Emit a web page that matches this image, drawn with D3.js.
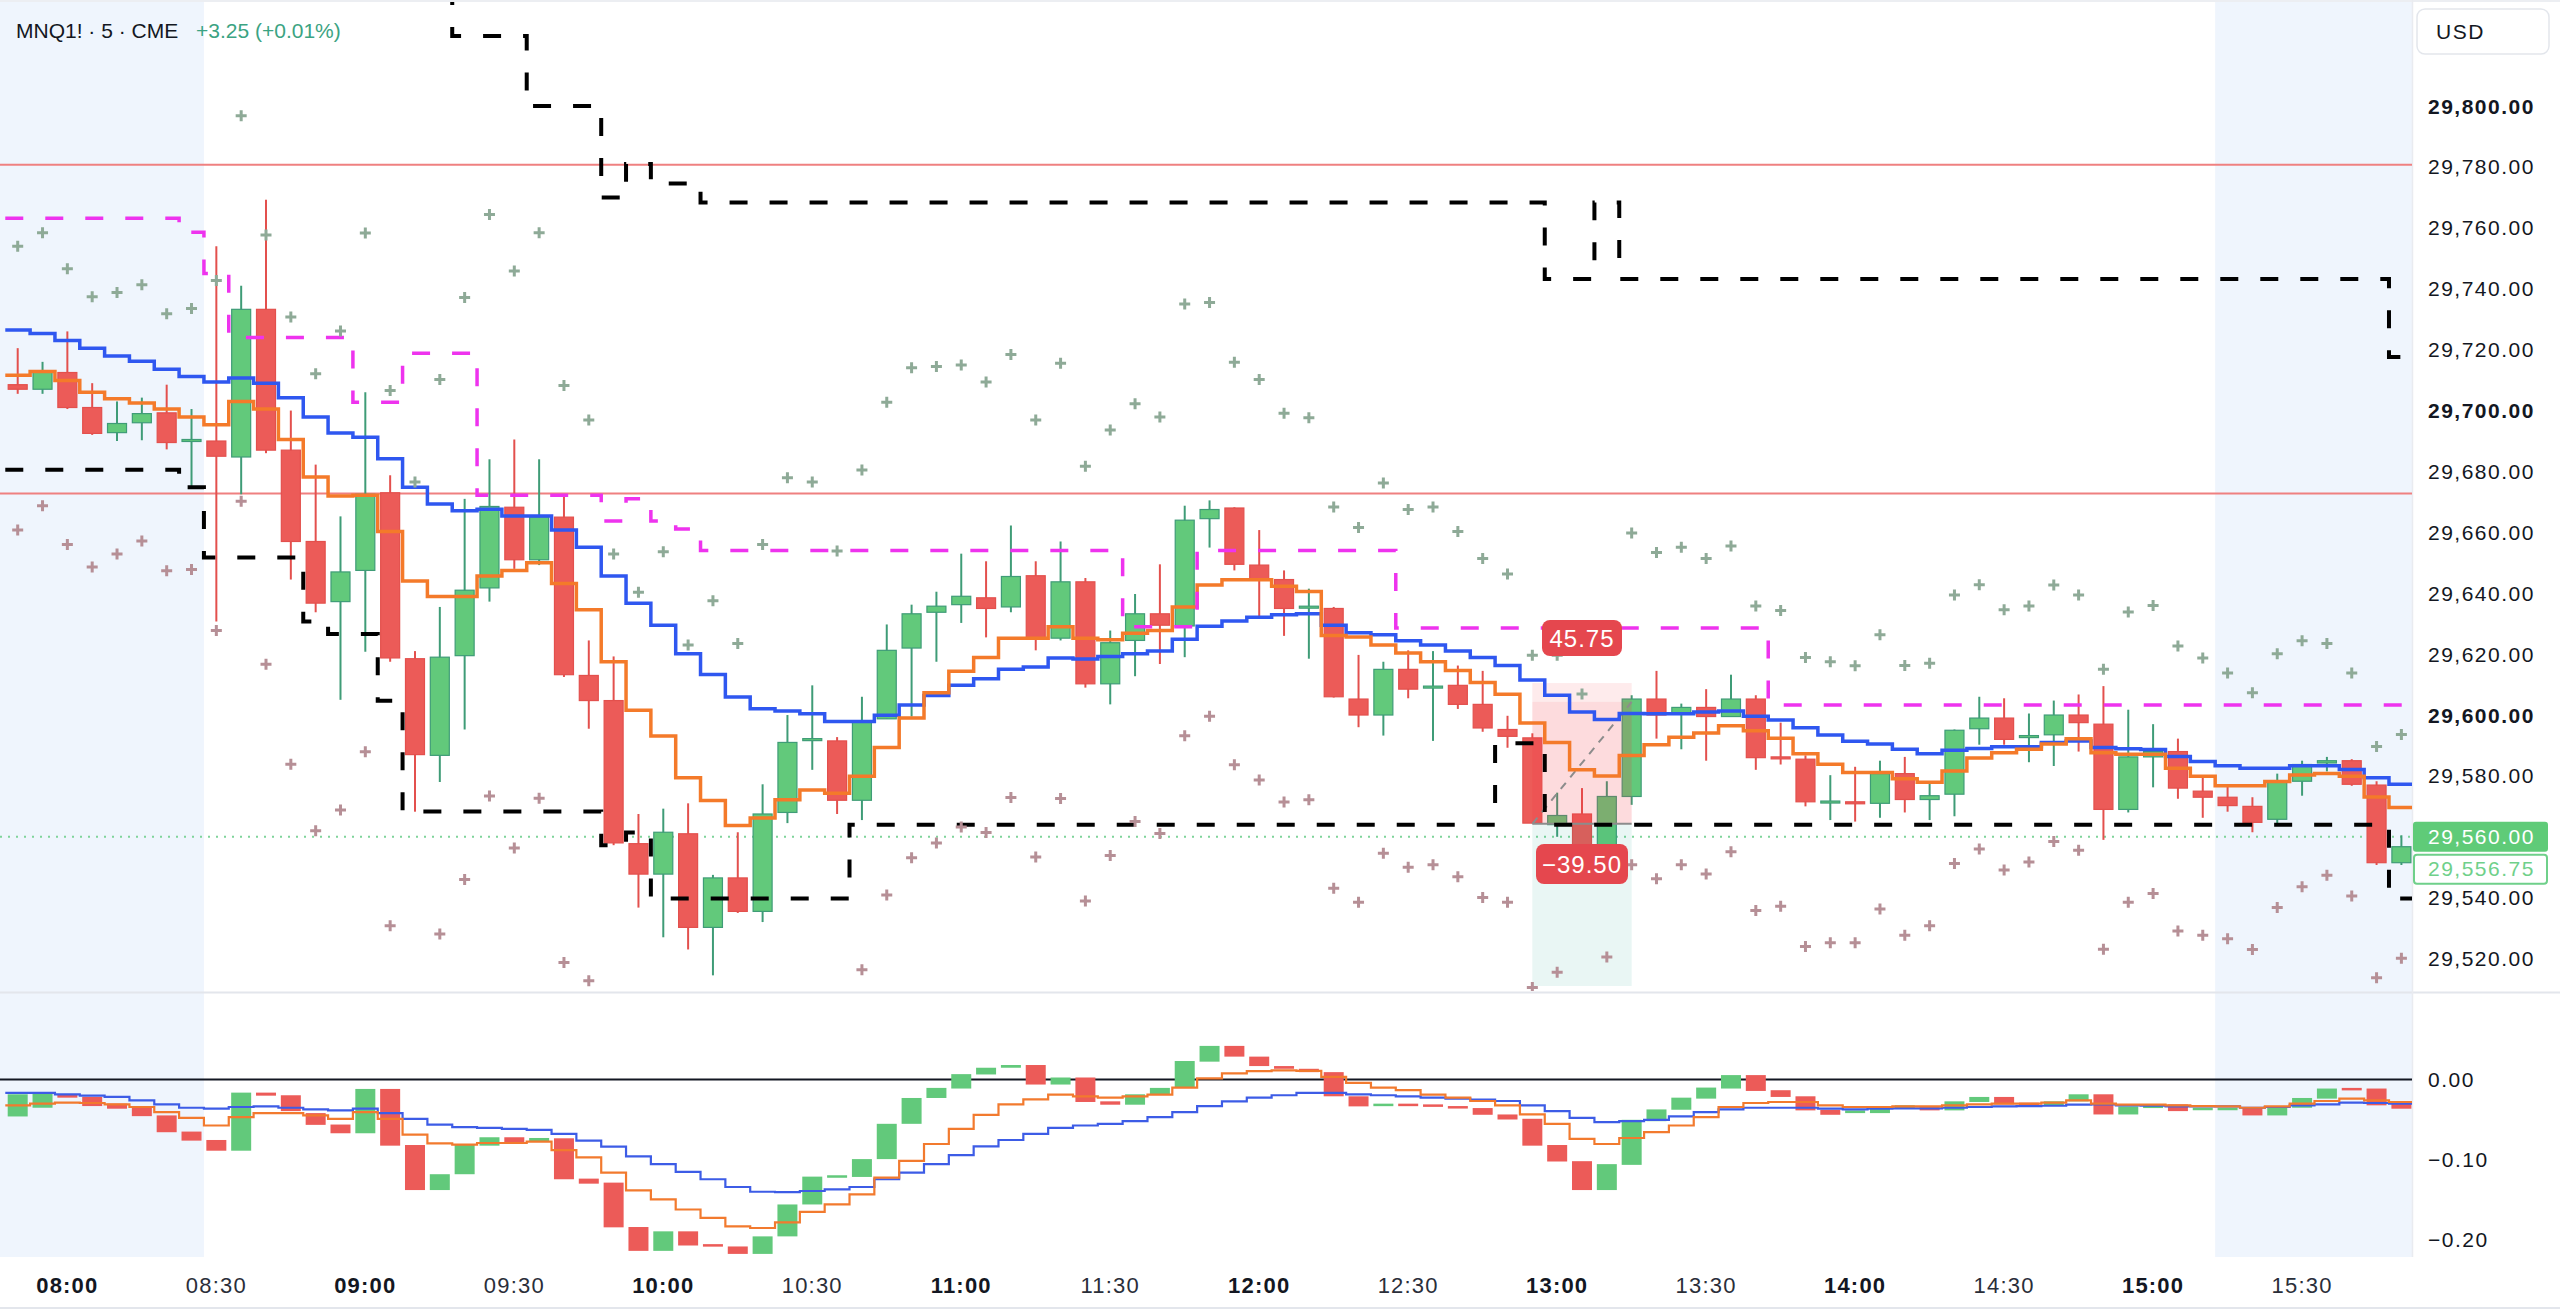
<!DOCTYPE html>
<html>
<head>
<meta charset="utf-8">
<script src="https://cdn.jsdelivr.net/npm/d3@7"></script>
<style>
html, body { margin: 0; padding: 0; background: #fff; }
svg { display: block; font-family: "Liberation Sans", Arial, sans-serif; }
</style>
</head>
<body>
<svg id="chart" width="2560" height="1310"></svg>
<script>
// ---- data (MNQ1!, 5 min bars) ----
var startTime = "07:50";
var barMinutes = 5;
var sessionOpen = "08:30";
var sessionClose = "15:15";
var timeTicks = ["08:00","08:30","09:00","09:30","10:00","10:30","11:00","11:30",
  "12:00","12:30","13:00","13:30","14:00","14:30","15:00","15:30"];
var priceTicks = [29520,29540,29560,29580,29600,29620,29640,29660,29680,29700,29720,29740,29760,29780,29800];
var oscTicks = [0, -0.1, -0.2];
var redLevels = [29780.7, 29672.8];
var lastPrice = 29560;
var lastClose = 29556.75;

var opens = [29708.5,29707,29712.5,29701,29692.75,29696,29699.25,29690.25,29690,29684.75,
29733.25,29687,29657,29637.25,29647.5,29673,29618.5,29586.75,29619.5,29641.75,
29668.25,29651,29665,29613,29604.75,29557.75,29547.75,29561,29530.25,29546.5,
29535.5,29568,29592,29591.5,29572,29598.75,29622,29633.75,29636.25,29638.5,
29635.5,29645.75,29625.25,29643.75,29610.25,29624.5,29633.25,29629.25,29664.5,29668,
29649.25,29644.5,29635.25,29635,29605.25,29600,29615,29609.25,29609.75,29603.5,
29595.25,29592.5,29564,29567.5,29553,29573.25,29605.25,29600.5,29602.5,29599.5,
29605.25,29586.25,29585.5,29571.5,29571.5,29571,29580.75,29572.25,29574,29595.5,
29599,29592.75,29593.5,29600,29597,29569,29586.25,29588,29575,29573,
29570,29565.75,29578.25,29584.25,29585,29577,29551.5];
var highs = [29720.5,29716,29726,29709,29703,29704.25,29708.5,29700.5,29754,29741,
29769.25,29700,29682.25,29665.25,29706,29678.75,29621,29635.5,29671,29684,
29690.5,29684,29672.5,29624.5,29619.25,29567.5,29569.25,29571,29547.5,29561.5,
29577.25,29600,29609.75,29592.75,29606,29629.75,29636.25,29640.5,29653,29650.5,
29662.25,29650.5,29657,29645,29627.75,29639.75,29649.5,29668.75,29670.5,29668.25,
29660.75,29647.5,29641.5,29635.5,29619.75,29617.5,29621.25,29621,29616.25,29614.5,
29599.75,29594,29574.5,29576,29578.25,29606.5,29614.5,29603.75,29608.5,29613.25,
29606.5,29597.5,29586.75,29580.25,29583,29585,29586.25,29578.25,29595.25,29606,
29605.5,29600.5,29604.75,29606.75,29609.5,29601.75,29597,29592.25,29580.25,29577.25,
29573,29580.75,29585,29586.25,29585.5,29578.25,29560.5];
var lows = [29705.5,29705.5,29700.5,29692,29690,29690.25,29687.25,29674.75,29630.75,29672.5,
29686,29644.5,29633.75,29605,29620.75,29617.5,29568.25,29578,29595.25,29637.25,
29648,29649.25,29612.5,29595.5,29557.25,29536.75,29527,29523,29514.5,29535,
29532,29564.5,29582,29567.5,29565.5,29598.75,29599.5,29617.5,29630.25,29625.5,
29633.75,29621.25,29624.5,29609,29603.5,29612.75,29616.75,29619,29655,29647.5,
29632.5,29626,29618.5,29605.75,29596,29593.25,29605.5,29591.5,29602,29594.5,
29589.25,29564.5,29560,29550,29551,29570.5,29592.25,29588.75,29585,29599.5,
29582,29583.75,29570,29565.5,29565,29566.25,29568,29565.5,29566.75,29590.25,
29590.25,29584.5,29583.25,29588,29559,29568,29576.25,29572.5,29566.25,29568.25,
29561.5,29564.25,29573.5,29581.5,29576.75,29550.75,29550.75];
var closes = [29707,29713,29701,29692.5,29695.75,29699,29689.5,29690.5,29685,29733.25,
29687,29657,29636.75,29647,29672.5,29618.75,29587,29619,29641,29668.5,
29651,29665,29613.25,29604.75,29558,29547.75,29561.5,29530.25,29546.5,29535.5,
29567.5,29591,29592.25,29572,29598,29621.25,29633.25,29635.75,29639,29635,
29645.5,29625.25,29643.75,29610.25,29623.75,29633.25,29629.5,29664,29667.5,29649.5,
29644.5,29635,29635.75,29606,29600,29615,29608.5,29609.5,29603.5,29595.75,
29593,29564.5,29567,29553,29573.25,29605.25,29600,29602.5,29599.5,29605.25,
29586,29586,29571.5,29571.75,29571.25,29580.75,29572.25,29573.5,29595,29599,
29592,29593.25,29600,29597.5,29569,29586.25,29588,29576,29573,29570.25,
29564.75,29578.25,29583.75,29585,29577.25,29551.5,29556.75];

// moving averages (blue slow, orange fast)
var emaSlow = [29726.5,29725.3,29723.0,29720.5,29717.9,29716.2,29713.6,29711.2,29709.4,29710.7,
29709.0,29704.2,29697.9,29692.6,29691.2,29684.2,29674.8,29669.3,29667.1,29667.6,
29665.4,29665.4,29660.8,29655.1,29645.7,29636.7,29629.5,29620.1,29613.3,29605.9,
29602.1,29601.3,29600.4,29597.9,29597.9,29599.9,29603.3,29606.4,29609.8,29611.9,
29615.0,29615.8,29618.7,29618.4,29619.2,29620.1,29621.0,29624.9,29629.2,29630.9,
29632.1,29632.9,29633.3,29629.5,29627.0,29626.4,29624.4,29623.0,29621.0,29618.9,
29616.3,29611.5,29606.5,29601.0,29598.5,29600.5,29600.4,29600.4,29601.0,29601.3,
29599.6,29598.4,29595.8,29593.4,29591.4,29590.5,29588.8,29587.3,29588.4,29589.0,
29589.6,29589.6,29591.0,29591.5,29589.3,29588.9,29588.7,29586.4,29584.7,29583.3,
29582.5,29582.5,29583.3,29583.3,29582.1,29579.4,29577.3];
var emaFast = [29711.6,29712.8,29709.9,29706.0,29703.9,29702.5,29700.5,29697.9,29695.3,29703.0,
29700.5,29690.5,29678.2,29671.9,29672.2,29660.3,29644.0,29638.9,29638.9,29645.7,
29647.5,29650.0,29643.2,29634.6,29617.5,29601.6,29593.1,29579.4,29571.9,29563.7,
29566.2,29572.2,29575.4,29574.3,29579.9,29589.3,29599.0,29607.3,29614.4,29618.9,
29625.2,29625.2,29629.0,29625.2,29624.7,29626.9,29627.8,29635.5,29642.7,29644.4,
29644.4,29642.3,29640.6,29626.1,29625.6,29623.0,29620.4,29617.5,29614.6,29610.7,
29606.8,29597.4,29591.0,29582.0,29580.0,29586.7,29590.2,29592.7,29594.1,29596.5,
29594.8,29592.4,29587.3,29583.8,29581.1,29581.1,29579.1,29577.9,29581.6,29585.9,
29587.6,29588.8,29590.5,29592.2,29587.6,29587.1,29587.1,29582.5,29579.9,29576.8,
29576.8,29578.2,29580.3,29580.8,29579.9,29573.1,29569.6];

// stepped levels (magenta dashed, black dashed upper / lower)
var magentaLevel = [29763.2,29763.2,29763.2,29763.2,29763.2,29763.2,29763.2,29758.6,29745.0,29724.0,
29724.0,29724.0,29724.0,29724.0,29702.7,29702.7,29718.8,29718.8,29718.8,29672.2,
29672.2,29672.2,29672.2,29672.2,29663.7,29671.0,29663.7,29661.1,29654.0,29654.0,
29654.0,29654.0,29654.0,29654.0,29654.0,29654.0,29654.0,29654.0,29654.0,29654.0,
29654.0,29654.0,29654.0,29654.0,29654.0,29629.0,29629.0,29629.0,29654.0,29654.0,
29654.0,29654.0,29654.0,29654.0,29654.0,29654.0,29628.6,29628.6,29628.6,29628.6,
29628.6,29628.6,29628.6,29628.6,29628.6,29628.6,29628.6,29628.6,29628.6,29628.6,
29628.6,29603.3,29603.3,29603.3,29603.3,29603.3,29603.3,29603.3,29603.3,29603.3,
29603.3,29603.3,29603.3,29603.3,29603.3,29603.3,29603.3,29603.3,29603.3,29603.3,
29603.3,29603.3,29603.3,29603.3,29603.3,29603.3,29603.3];
var blackUpper = [29850,29850,29850,29850,29850,29850,29850,29850,29850,29850,
29850,29850,29850,29850,29850,29850,29850,29850,29823,29823,
29823,29800,29800,29800,29770,29781,29774.6,29774.6,29768.3,29768.3,
29768.3,29768.3,29768.3,29768.3,29768.3,29768.3,29768.3,29768.3,29768.3,29768.3,
29768.3,29768.3,29768.3,29768.3,29768.3,29768.3,29768.3,29768.3,29768.3,29768.3,
29768.3,29768.3,29768.3,29768.3,29768.3,29768.3,29768.3,29768.3,29768.3,29768.3,
29768.3,29768.3,29743.2,29743.2,29768.3,29743.2,29743.2,29743.2,29743.2,29743.2,
29743.2,29743.2,29743.2,29743.2,29743.2,29743.2,29743.2,29743.2,29743.2,29743.2,
29743.2,29743.2,29743.2,29743.2,29743.2,29743.2,29743.2,29743.2,29743.2,29743.2,
29743.2,29743.2,29743.2,29743.2,29743.2,29743.2,29717.6];
var blackLower = [29680.6,29680.6,29680.6,29680.6,29680.6,29680.6,29680.6,29674.8,29651.7,29651.7,
29651.7,29651.7,29630.7,29626.6,29626.6,29604.7,29568.3,29568.3,29568.3,29568.3,
29568.3,29568.3,29568.3,29568.3,29557.2,29561.4,29539.7,29539.7,29539.7,29539.7,
29539.7,29539.7,29539.7,29539.7,29564,29564,29564,29564,29564,29564,
29564,29564,29564,29564,29564,29564,29564,29564,29564,29564,
29564,29564,29564,29564,29564,29564,29564,29564,29564,29564,
29590.7,29590.7,29564,29564,29564,29564,29564,29564,29564,29564,
29564,29564,29564,29564,29564,29564,29564,29564,29564,29564,
29564,29564,29564,29564,29564,29564,29564,29564,29564,29564,
29564,29564,29564,29564,29564,29564,29539.7];

// band markers (+) above and below price
var crossUp = [29754.0,29758.4,29746.6,29737.4,29738.8,29741.3,29731.8,29733.5,29742.7,29796.8,
29757.7,29730.7,29712.1,29726.1,29758.3,29706.6,29676.5,29710.2,29737.1,29764.4,
29745.8,29758.4,29708.2,29696.9,29652.9,29640.3,29653.6,29623.0,29637.5,29623.5,
29656.0,29677.9,29676.5,29653.9,29680.5,29702.7,29714.1,29714.5,29715.0,29709.4,
29718.4,29696.9,29715.5,29681.7,29693.6,29702.2,29697.9,29735.0,29735.5,29715.9,
29710.2,29699.1,29697.6,29668.3,29661.6,29676.2,29667.5,29668.3,29660.3,29651.4,
29646.3,29619.6,29619.6,29606.9,null,29659.8,29653.4,29655.1,29651.4,29655.5,
29635.8,29634.3,29618.9,29617.5,29616.2,29626.4,29616.3,29617.0,29639.4,29642.8,
29634.6,29635.8,29642.7,29639.4,29615.0,29633.8,29636.0,29622.7,29618.7,29613.8,
29607.3,29620.1,29624.4,29623.5,29613.8,29589.7,29593.6];
var crossDown = [29660.8,29668.7,29656.0,29648.6,29652.9,29657.2,29647.4,29647.8,29627.8,29670.2,
29616.7,29583.8,29562.0,29568.8,29587.9,29530.8,null,29528.1,29546.0,29573.4,
29556.3,29572.7,29518.7,29512.7,null,null,null,null,null,null,
null,null,null,null,29516.3,29540.9,29553.1,29558.0,29563.2,29561.4,
29572.9,29553.4,29572.6,29538.9,29553.9,29565.0,29561.1,29593.2,29599.6,29583.7,
29578.7,29571.4,29572.2,29543.1,29538.5,29554.6,29550.0,29550.8,29546.9,29540.1,
29538.5,29510.5,29515.5,null,29520.5,29550.8,29546.2,29550.8,29547.8,29555.1,
29535.8,29537.2,29524.0,29525.2,29525.2,29536.3,29527.7,29530.8,29551.2,29556.0,
29549.1,29551.7,29558.5,29555.6,29523.1,29538.5,29541.4,29529.1,29527.7,29526.5,
29523.0,29536.8,29543.6,29547.4,29540.6,29513.7,29520.1];

// lower pane oscillator: open/close boxes and two signal lines
var oscOpen = [-0.0462,-0.0353,-0.0189,-0.0218,-0.0302,-0.0332,-0.0449,-0.0651,-0.0756,-0.0890,
-0.0164,-0.0197,-0.0420,-0.0563,-0.0672,-0.0118,-0.0819,-0.1382,-0.1184,-0.0827,
-0.0722,-0.0773,-0.0735,-0.1239,-0.1289,-0.1844,-0.2142,-0.1898,-0.2058,-0.2087,
-0.2180,-0.1961,-0.1562,-0.1218,-0.1218,-0.0995,-0.0554,-0.0231,-0.0113,0.0063,
0.0147,0.0181,-0.0063,0.0025,-0.0273,-0.0315,-0.0185,-0.0105,0.0223,0.0420,
0.0286,0.0168,0.0134,0.0092,-0.0210,-0.0319,-0.0302,-0.0311,-0.0332,-0.0357,
-0.0437,-0.0491,-0.0819,-0.1021,-0.1382,-0.1067,-0.0521,-0.0378,-0.0239,-0.0113,
0.0055,-0.0134,-0.0210,-0.0378,-0.0420,-0.0420,-0.0365,-0.0332,-0.0386,-0.0281,
-0.0218,-0.0290,-0.0323,-0.0273,-0.0185,-0.0437,-0.0357,-0.0311,-0.0378,-0.0378,
-0.0353,-0.0449,-0.0353,-0.0239,-0.0105,-0.0113,-0.0294];
var oscClose = [-0.0185,-0.0176,-0.0227,-0.0332,-0.0365,-0.0458,-0.0659,-0.0764,-0.0890,-0.0164,
-0.0202,-0.0395,-0.0567,-0.0672,-0.0118,-0.0827,-0.1382,-0.1184,-0.0806,-0.0722,
-0.0785,-0.0731,-0.1247,-0.1302,-0.1848,-0.2142,-0.1898,-0.2075,-0.2079,-0.2180,
-0.1961,-0.1562,-0.1214,-0.1197,-0.0995,-0.0554,-0.0231,-0.0105,0.0067,0.0147,
0.0181,-0.0063,0.0025,-0.0281,-0.0315,-0.0185,-0.0105,0.0231,0.0420,0.0286,
0.0168,0.0134,0.0092,-0.0210,-0.0336,-0.0302,-0.0319,-0.0328,-0.0357,-0.0441,
-0.0500,-0.0827,-0.1025,-0.1382,-0.1058,-0.0504,-0.0374,-0.0227,-0.0101,0.0055,
-0.0143,-0.0218,-0.0386,-0.0441,-0.0386,-0.0353,-0.0323,-0.0386,-0.0273,-0.0218,
-0.0311,-0.0332,-0.0273,-0.0185,-0.0437,-0.0336,-0.0323,-0.0395,-0.0353,-0.0353,
-0.0449,-0.0353,-0.0231,-0.0113,-0.0126,-0.0323,-0.0365];
var oscBlue = [-0.0168,-0.0168,-0.0185,-0.0202,-0.0218,-0.0260,-0.0311,-0.0353,-0.0365,-0.0344,
-0.0336,-0.0353,-0.0374,-0.0386,-0.0365,-0.0420,-0.0491,-0.0563,-0.0596,-0.0605,
-0.0617,-0.0630,-0.0680,-0.0764,-0.0840,-0.0962,-0.1058,-0.1155,-0.1247,-0.1344,
-0.1403,-0.1407,-0.1394,-0.1373,-0.1344,-0.1247,-0.1163,-0.1058,-0.0945,-0.0836,
-0.0756,-0.0680,-0.0605,-0.0575,-0.0554,-0.0521,-0.0470,-0.0407,-0.0332,-0.0273,
-0.0227,-0.0197,-0.0168,-0.0168,-0.0185,-0.0197,-0.0210,-0.0227,-0.0239,-0.0252,
-0.0269,-0.0323,-0.0395,-0.0479,-0.0533,-0.0521,-0.0504,-0.0462,-0.0407,-0.0374,
-0.0353,-0.0353,-0.0353,-0.0365,-0.0374,-0.0365,-0.0361,-0.0361,-0.0353,-0.0344,
-0.0336,-0.0332,-0.0328,-0.0315,-0.0311,-0.0323,-0.0328,-0.0336,-0.0336,-0.0336,
-0.0353,-0.0344,-0.0323,-0.0311,-0.0290,-0.0294,-0.0302];
var oscOrange = [-0.0323,-0.0302,-0.0290,-0.0294,-0.0311,-0.0344,-0.0407,-0.0479,-0.0575,-0.0470,
-0.0420,-0.0420,-0.0449,-0.0491,-0.0407,-0.0491,-0.0689,-0.0798,-0.0815,-0.0794,
-0.0794,-0.0777,-0.0882,-0.0974,-0.1163,-0.1386,-0.1499,-0.1625,-0.1730,-0.1835,
-0.1856,-0.1785,-0.1655,-0.1562,-0.1436,-0.1226,-0.1016,-0.0806,-0.0617,-0.0441,
-0.0311,-0.0248,-0.0189,-0.0210,-0.0227,-0.0210,-0.0189,-0.0101,0.0013,0.0076,
0.0105,0.0113,0.0109,0.0034,-0.0042,-0.0101,-0.0134,-0.0189,-0.0227,-0.0269,
-0.0323,-0.0437,-0.0554,-0.0743,-0.0806,-0.0731,-0.0659,-0.0575,-0.0470,-0.0344,
-0.0294,-0.0281,-0.0281,-0.0323,-0.0344,-0.0344,-0.0336,-0.0336,-0.0323,-0.0311,
-0.0302,-0.0302,-0.0290,-0.0260,-0.0302,-0.0315,-0.0315,-0.0323,-0.0332,-0.0336,
-0.0353,-0.0336,-0.0302,-0.0269,-0.0239,-0.0260,-0.0281];

// short position drawing
var posStartBar = 61, posEndBar = 65;
var posEntry = 29564.25, posStop = 29610.5, posFill = 29604.3, posTarget = 29511;
var posStopText = "45.75", posTargetText = "\u221239.50";

// ---- layout ----
var W = 2560, H = 1310;
var plotR = 2412;
var pTop = 2, pBot = 991;
var iTop = 994, iBot = 1257;
var green = "#62c97b", greenLine = "#3f9c77", red = "#ec5b58", redLine = "#e3504d";
var textCol = "#131722";

function minutesOf(s) { var p = s.split(":").map(Number); return p[0] * 60 + p[1]; }
function barOf(s) { return (minutesOf(s) - minutesOf(startTime)) / barMinutes; }

var n = closes.length;
var x = d3.scaleLinear().domain([0, 96]).range([17.7, 2401.4]);
var bw = x(1) - x(0);
var y = d3.scaleLinear().domain([29520, 29800]).range([958.6, 106.1]);
var yi = d3.scaleLinear().domain([-0.2, 0]).range([1239.5, 1079.5]);

var svg = d3.select("#chart");
svg.append("rect").attr("width", W).attr("height", H).attr("fill", "#fff");

var defs = svg.append("defs");
defs.append("clipPath").attr("id", "clipP").append("rect")
  .attr("x", 0).attr("y", pTop).attr("width", plotR).attr("height", pBot - pTop);
defs.append("clipPath").attr("id", "clipI").append("rect")
  .attr("x", 0).attr("y", iTop).attr("width", plotR).attr("height", iBot - iTop);

// session shading
var shadeL = x(barOf(sessionOpen)) - bw / 2;
var shadeR = x(barOf(sessionClose)) - bw / 2;
[[0, shadeL], [shadeR, plotR]].forEach(function (s) {
  svg.append("rect").attr("x", s[0]).attr("y", pTop).attr("width", s[1] - s[0])
    .attr("height", iBot - pTop).attr("fill", "#eff5fd");
});

// pane borders
svg.append("line").attr("x1", 0).attr("x2", W).attr("y1", 1).attr("y2", 1).attr("stroke", "#eceef2").attr("stroke-width", 2);
svg.append("line").attr("x1", 0).attr("x2", W).attr("y1", 992.5).attr("y2", 992.5).attr("stroke", "#e3e6ec").attr("stroke-width", 2);
svg.append("line").attr("x1", plotR + 0.5).attr("x2", plotR + 0.5).attr("y1", 0).attr("y2", iBot).attr("stroke", "#e9ebf0").attr("stroke-width", 1.5);
svg.append("line").attr("x1", 0).attr("x2", W).attr("y1", 1308).attr("y2", 1308).attr("stroke", "#e3e6ec").attr("stroke-width", 2);

var gp = svg.append("g").attr("clip-path", "url(#clipP)");
var gi = svg.append("g").attr("clip-path", "url(#clipI)");

// horizontal levels
redLevels.forEach(function (v) {
  gp.append("line").attr("x1", 0).attr("x2", plotR).attr("y1", y(v)).attr("y2", y(v))
    .attr("stroke", "#ef8080").attr("stroke-width", 2);
});
gp.append("line").attr("x1", 0).attr("x2", plotR).attr("y1", y(lastPrice)).attr("y2", y(lastPrice))
  .attr("stroke", "#7fd49a").attr("stroke-width", 2).attr("stroke-dasharray", "2 6");

// candles
var bars = d3.range(n);
var cg = gp.append("g");
bars.forEach(function (i) {
  var up = closes[i] >= opens[i];
  var cx = x(i);
  cg.append("line").attr("x1", cx).attr("x2", cx).attr("y1", y(highs[i])).attr("y2", y(lows[i]))
    .attr("stroke", up ? greenLine : redLine).attr("stroke-width", 2);
  var t = y(Math.max(opens[i], closes[i])), b = y(Math.min(opens[i], closes[i]));
  var h = Math.max(b - t, 2);
  cg.append("rect").attr("x", cx - 9.5).attr("y", t).attr("width", 19).attr("height", h)
    .attr("fill", up ? green : red).attr("stroke", up ? greenLine : redLine).attr("stroke-width", 1.2);
});

// position zones (semi transparent, above candles)
var px0 = x(posStartBar), px1 = x(posEndBar);
gp.append("rect").attr("x", px0).attr("y", y(posStop)).attr("width", px1 - px0)
  .attr("height", y(posFill) - y(posStop)).attr("fill", "rgba(242,54,69,0.10)");
gp.append("rect").attr("x", px0).attr("y", y(posFill)).attr("width", px1 - px0)
  .attr("height", y(posEntry) - y(posFill)).attr("fill", "rgba(242,54,69,0.18)");
gp.append("rect").attr("x", px0).attr("y", y(posEntry)).attr("width", px1 - px0)
  .attr("height", y(posTarget) - y(posEntry)).attr("fill", "rgba(8,153,129,0.09)");
gp.append("line").attr("x1", px0).attr("x2", px1).attr("y1", y(posEntry)).attr("y2", y(posEntry))
  .attr("stroke", "#8c8c8c").attr("stroke-width", 2);
gp.append("line").attr("x1", px0).attr("x2", px1).attr("y1", y(posEntry)).attr("y2", y(posFill))
  .attr("stroke", "#8c8c8c").attr("stroke-width", 2).attr("stroke-dasharray", "8 7");

// step lines
function stepPath(vals, sc) {
  var pts = vals.map(function (v, i) { return [x(i) - bw / 2, sc(v)]; });
  pts.push([x(vals.length - 1) + bw / 2, sc(vals[vals.length - 1])]);
  return d3.line().curve(d3.curveStepAfter)(pts);
}
gp.append("path").attr("d", stepPath(emaSlow, y)).attr("fill", "none").attr("stroke", "#2f57f0").attr("stroke-width", 3.5);
gp.append("path").attr("d", stepPath(emaFast, y)).attr("fill", "none").attr("stroke", "#f47a2a").attr("stroke-width", 3.5);
gp.append("path").attr("d", stepPath(magentaLevel, y)).attr("fill", "none").attr("stroke", "#ee33ee")
  .attr("stroke-width", 3.5).attr("stroke-dasharray", "18 22");
gp.append("path").attr("d", stepPath(blackUpper, y)).attr("fill", "none").attr("stroke", "#000")
  .attr("stroke-width", 4).attr("stroke-dasharray", "18 22");
gp.append("path").attr("d", stepPath(blackLower, y)).attr("fill", "none").attr("stroke", "#000")
  .attr("stroke-width", 4).attr("stroke-dasharray", "18 22");

// + markers
function crosses(vals, col) {
  vals.forEach(function (v, i) {
    if (v == null) return;
    var cx = x(i), cy = y(v);
    gp.append("path").attr("d", "M" + (cx - 5.5) + "," + cy + "h11M" + cx + "," + (cy - 5.5) + "v11")
      .attr("stroke", col).attr("stroke-width", 3).attr("fill", "none");
  });
}
crosses(crossUp, "#8eaa97");
crosses(crossDown, "#b68f96");

// position labels
function tag(cx, cy, w, h, txt) {
  svg.append("rect").attr("x", cx - w / 2).attr("y", cy - h / 2).attr("width", w).attr("height", h)
    .attr("rx", 8).attr("fill", "#e5474e");
  svg.append("text").attr("x", cx).attr("y", cy + 8.5).attr("text-anchor", "middle")
    .attr("fill", "#fff").attr("font-size", 24).attr("letter-spacing", 1).text(txt);
}
tag((px0 + px1) / 2, 638, 80, 36, posStopText);
tag((px0 + px1) / 2, 864, 92, 40, posTargetText);

// oscillator pane
gi.append("line").attr("x1", 0).attr("x2", plotR).attr("y1", yi(0)).attr("y2", yi(0))
  .attr("stroke", textCol).attr("stroke-width", 2);
bars.forEach(function (i) {
  var up = oscClose[i] >= oscOpen[i];
  var t = yi(Math.max(oscOpen[i], oscClose[i])), b = yi(Math.min(oscOpen[i], oscClose[i]));
  gi.append("rect").attr("x", x(i) - 10).attr("y", t).attr("width", 20).attr("height", Math.max(b - t, 2.5))
    .attr("fill", up ? green : red);
});
gi.append("path").attr("d", stepPath(oscBlue, yi)).attr("fill", "none").attr("stroke", "#3d5ce6").attr("stroke-width", 2.2);
gi.append("path").attr("d", stepPath(oscOrange, yi)).attr("fill", "none").attr("stroke", "#f27a2e").attr("stroke-width", 2.2);

// price axis
var fmtP = d3.format(",.2f");
priceTicks.forEach(function (v) {
  svg.append("text").attr("x", 2428).attr("y", y(v) + 7.5).attr("font-size", 21).attr("letter-spacing", 1.5)
    .attr("font-weight", v % 100 === 0 ? "bold" : "normal").attr("fill", textCol).text(fmtP(v));
});
var fmtO = d3.format(".2f");
oscTicks.forEach(function (v) {
  svg.append("text").attr("x", 2428).attr("y", yi(v) + 7.5).attr("font-size", 21).attr("letter-spacing", 1.5)
    .attr("fill", textCol).text(fmtO(v));
});

// last price tags
svg.append("rect").attr("x", 2413).attr("y", y(lastPrice) - 15).attr("width", 135).attr("height", 30)
  .attr("rx", 3).attr("fill", "#5fcb78");
svg.append("text").attr("x", 2428).attr("y", y(lastPrice) + 7.5).attr("font-size", 21).attr("letter-spacing", 1.5)
  .attr("fill", "#fff").text(fmtP(lastPrice));
var lcY = y(lastPrice) + 32;
svg.append("rect").attr("x", 2414).attr("y", lcY - 14).attr("width", 133).attr("height", 29)
  .attr("rx", 3).attr("fill", "#fff").attr("stroke", "#6fd08a").attr("stroke-width", 2);
svg.append("text").attr("x", 2428).attr("y", lcY + 7.5).attr("font-size", 21).attr("letter-spacing", 1.5)
  .attr("fill", "#6fd08a").text(fmtP(lastClose));

// currency box
svg.append("rect").attr("x", 2417).attr("y", 9).attr("width", 132).attr("height", 45).attr("rx", 8)
  .attr("fill", "#fff").attr("stroke", "#e3e6ec").attr("stroke-width", 1.5);
svg.append("text").attr("x", 2436).attr("y", 39).attr("font-size", 21).attr("letter-spacing", 1.5)
  .attr("fill", textCol).text("USD");

// time axis
timeTicks.forEach(function (t) {
  var bold = t.slice(3) === "00";
  svg.append("text").attr("x", x(barOf(t))).attr("y", 1293).attr("text-anchor", "middle")
    .attr("font-size", 22).attr("letter-spacing", 1.2).attr("font-weight", bold ? "bold" : "normal")
    .attr("fill", bold ? textCol : "#2a2e39").text(t);
});

// legend
svg.append("text").attr("x", 16).attr("y", 38).attr("font-size", 21).attr("fill", textCol).text("MNQ1! \u00b7 5 \u00b7 CME");
svg.append("text").attr("x", 196).attr("y", 38).attr("font-size", 21).attr("fill", "#3ba382").text("+3.25 (+0.01%)");
</script>
</body>
</html>
